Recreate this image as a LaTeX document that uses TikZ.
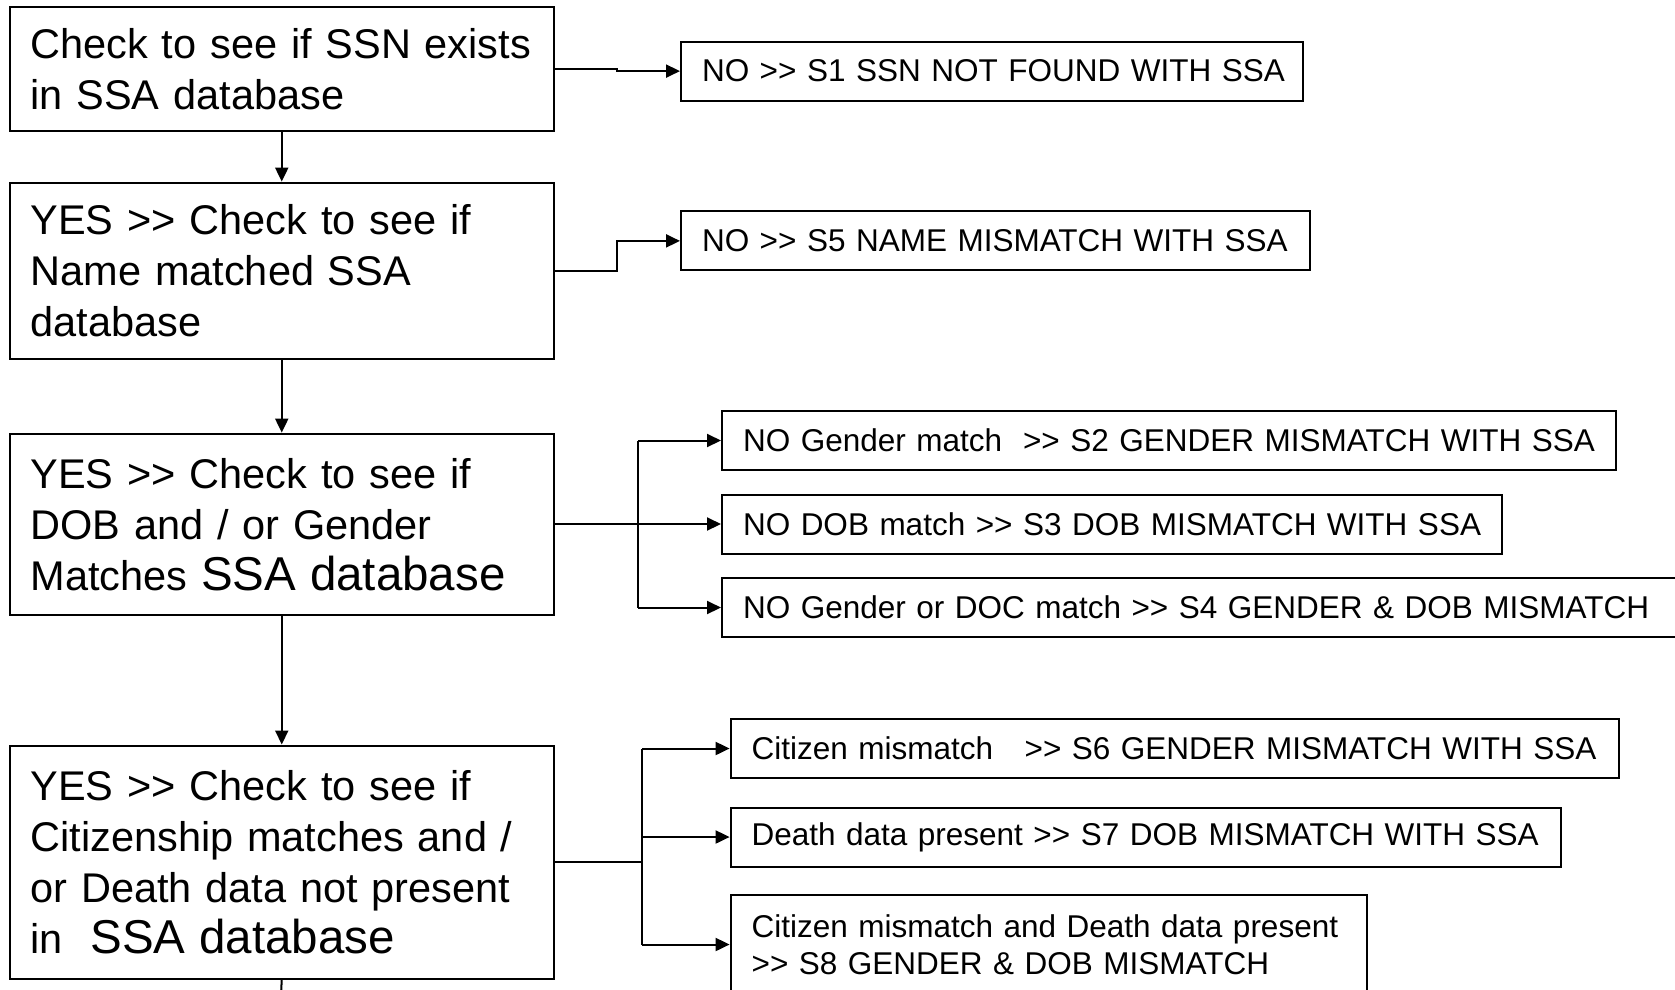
\documentclass[tikz,border=0pt]{standalone}
\usepackage{fontspec}
\setmainfont{Liberation Sans}
\usetikzlibrary{arrows.meta}
\newcommand{\gtgt}{>\kern0pt>}
\newcommand{\bigSSA}{\fontsize{47.5}{51}\selectfont SSA database}
\begin{document}
\begin{tikzpicture}[x=1pt,y=-1pt,
  bigbox/.style={draw, line width=2pt, anchor=north west, align=left, inner xsep=21pt, inner ysep=0pt, minimum width=544.5pt, text width=502.5pt, font=\fontsize{41.5}{51}\selectfont},
  smallbox/.style={draw, line width=2pt, anchor=north west, align=left, inner xsep=21pt, inner ysep=0pt, minimum height=59pt, font=\fontsize{31.5}{37.5}\selectfont},
  conn/.style={line width=2pt},
  arr/.style={line width=2pt, -{Triangle[length=14pt,width=13pt]}}]
\useasboundingbox (0,0) rectangle (1675,989);
\fill[white] (0,0) rectangle (1675,989);
% main column
\node[bigbox, minimum height=124pt] (A) at (8.5,6.4) {\mbox{Check to see if SSN exists}\\\mbox{in SSA database}};
\node[bigbox, minimum height=176pt] (B) at (8.5,181.6) {\mbox{YES \gtgt{} Check to see if}\\\mbox{Name matched SSA}\\\mbox{database}};
\node[bigbox, minimum height=181.6pt] (C) at (8.5,432.6) {\mbox{YES \gtgt{} Check to see if}\\\mbox{DOB and / or Gender}\\\mbox{Matches {\bigSSA}}};
\node[bigbox, minimum height=233pt] (D) at (8.5,744.5) {\mbox{YES \gtgt{} Check to see if}\\\mbox{Citizenship matches and /}\\\mbox{or Death data not present}\\\mbox{in\ \ {\bigSSA}}};
% outcome boxes
\node[smallbox, text width=580pt] (S1) at (680,40.6) {\mbox{NO \gtgt{} S1 SSN NOT FOUND WITH SSA}};
\node[smallbox, text width=587pt] (S5) at (680,210.4) {\mbox{NO \gtgt{} S5 NAME MISMATCH WITH SSA}};
\node[smallbox, text width=852pt] (S2) at (721,410) {\mbox{NO Gender match\ \ \gtgt{} S2 GENDER MISMATCH WITH SSA}};
\node[smallbox, text width=738pt] (S3) at (721,493.5) {\mbox{NO DOB match \gtgt{} S3 DOB MISMATCH WITH SSA}};
\node[smallbox, text width=928pt] (S4) at (721,577) {\mbox{NO Gender or DOC match \gtgt{} S4 GENDER \& DOB MISMATCH}};
\node[smallbox, text width=846pt] (S6) at (729.6,718) {\mbox{Citizen mismatch\ \ \ \gtgt{} S6 GENDER MISMATCH WITH SSA}};
\node[smallbox, text width=788pt] (S7) at (729.6,806.5) {\mbox{Death data present \gtgt{} S7 DOB MISMATCH WITH SSA}};
\node[smallbox, text width=594pt, minimum height=99pt] (S8) at (729.6,894) {\mbox{Citizen mismatch and Death data present}\\\mbox{\gtgt{} S8 GENDER \& DOB MISMATCH}};
% helper coordinates
\coordinate (xAB) at (617,0);
\coordinate (xC) at (638,0);
\coordinate (xD) at (642,0);
\coordinate (Dout) at (280.75,1000);
% vertical flow
\draw[arr] (A.south) -- (B.north);
\draw[arr] (B.south) -- (C.north);
\draw[arr] (C.south) -- (D.north);
\draw[conn] (D.south) -- (Dout);
% branches
\draw[arr] (A.east) -- (A.east -| xAB) |- (S1.west);
\draw[arr] (B.east) -- (B.east -| xAB) |- (S5.west);
\draw[conn] (C.east) -- (C.east -| xC);
\draw[conn] (S2.west -| xC) -- (S4.west -| xC);
\draw[arr] (S2.west -| xC) -- (S2.west);
\draw[arr] (S3.west -| xC) -- (S3.west);
\draw[arr] (S4.west -| xC) -- (S4.west);
\draw[conn] (D.east) -- (D.east -| xD);
\draw[conn] (S6.west -| xD) -- (S8.west -| xD);
\draw[arr] (S6.west -| xD) -- (S6.west);
\draw[arr] (S7.west -| xD) -- (S7.west);
\draw[arr] (S8.west -| xD) -- (S8.west);
\end{tikzpicture}
\end{document}
